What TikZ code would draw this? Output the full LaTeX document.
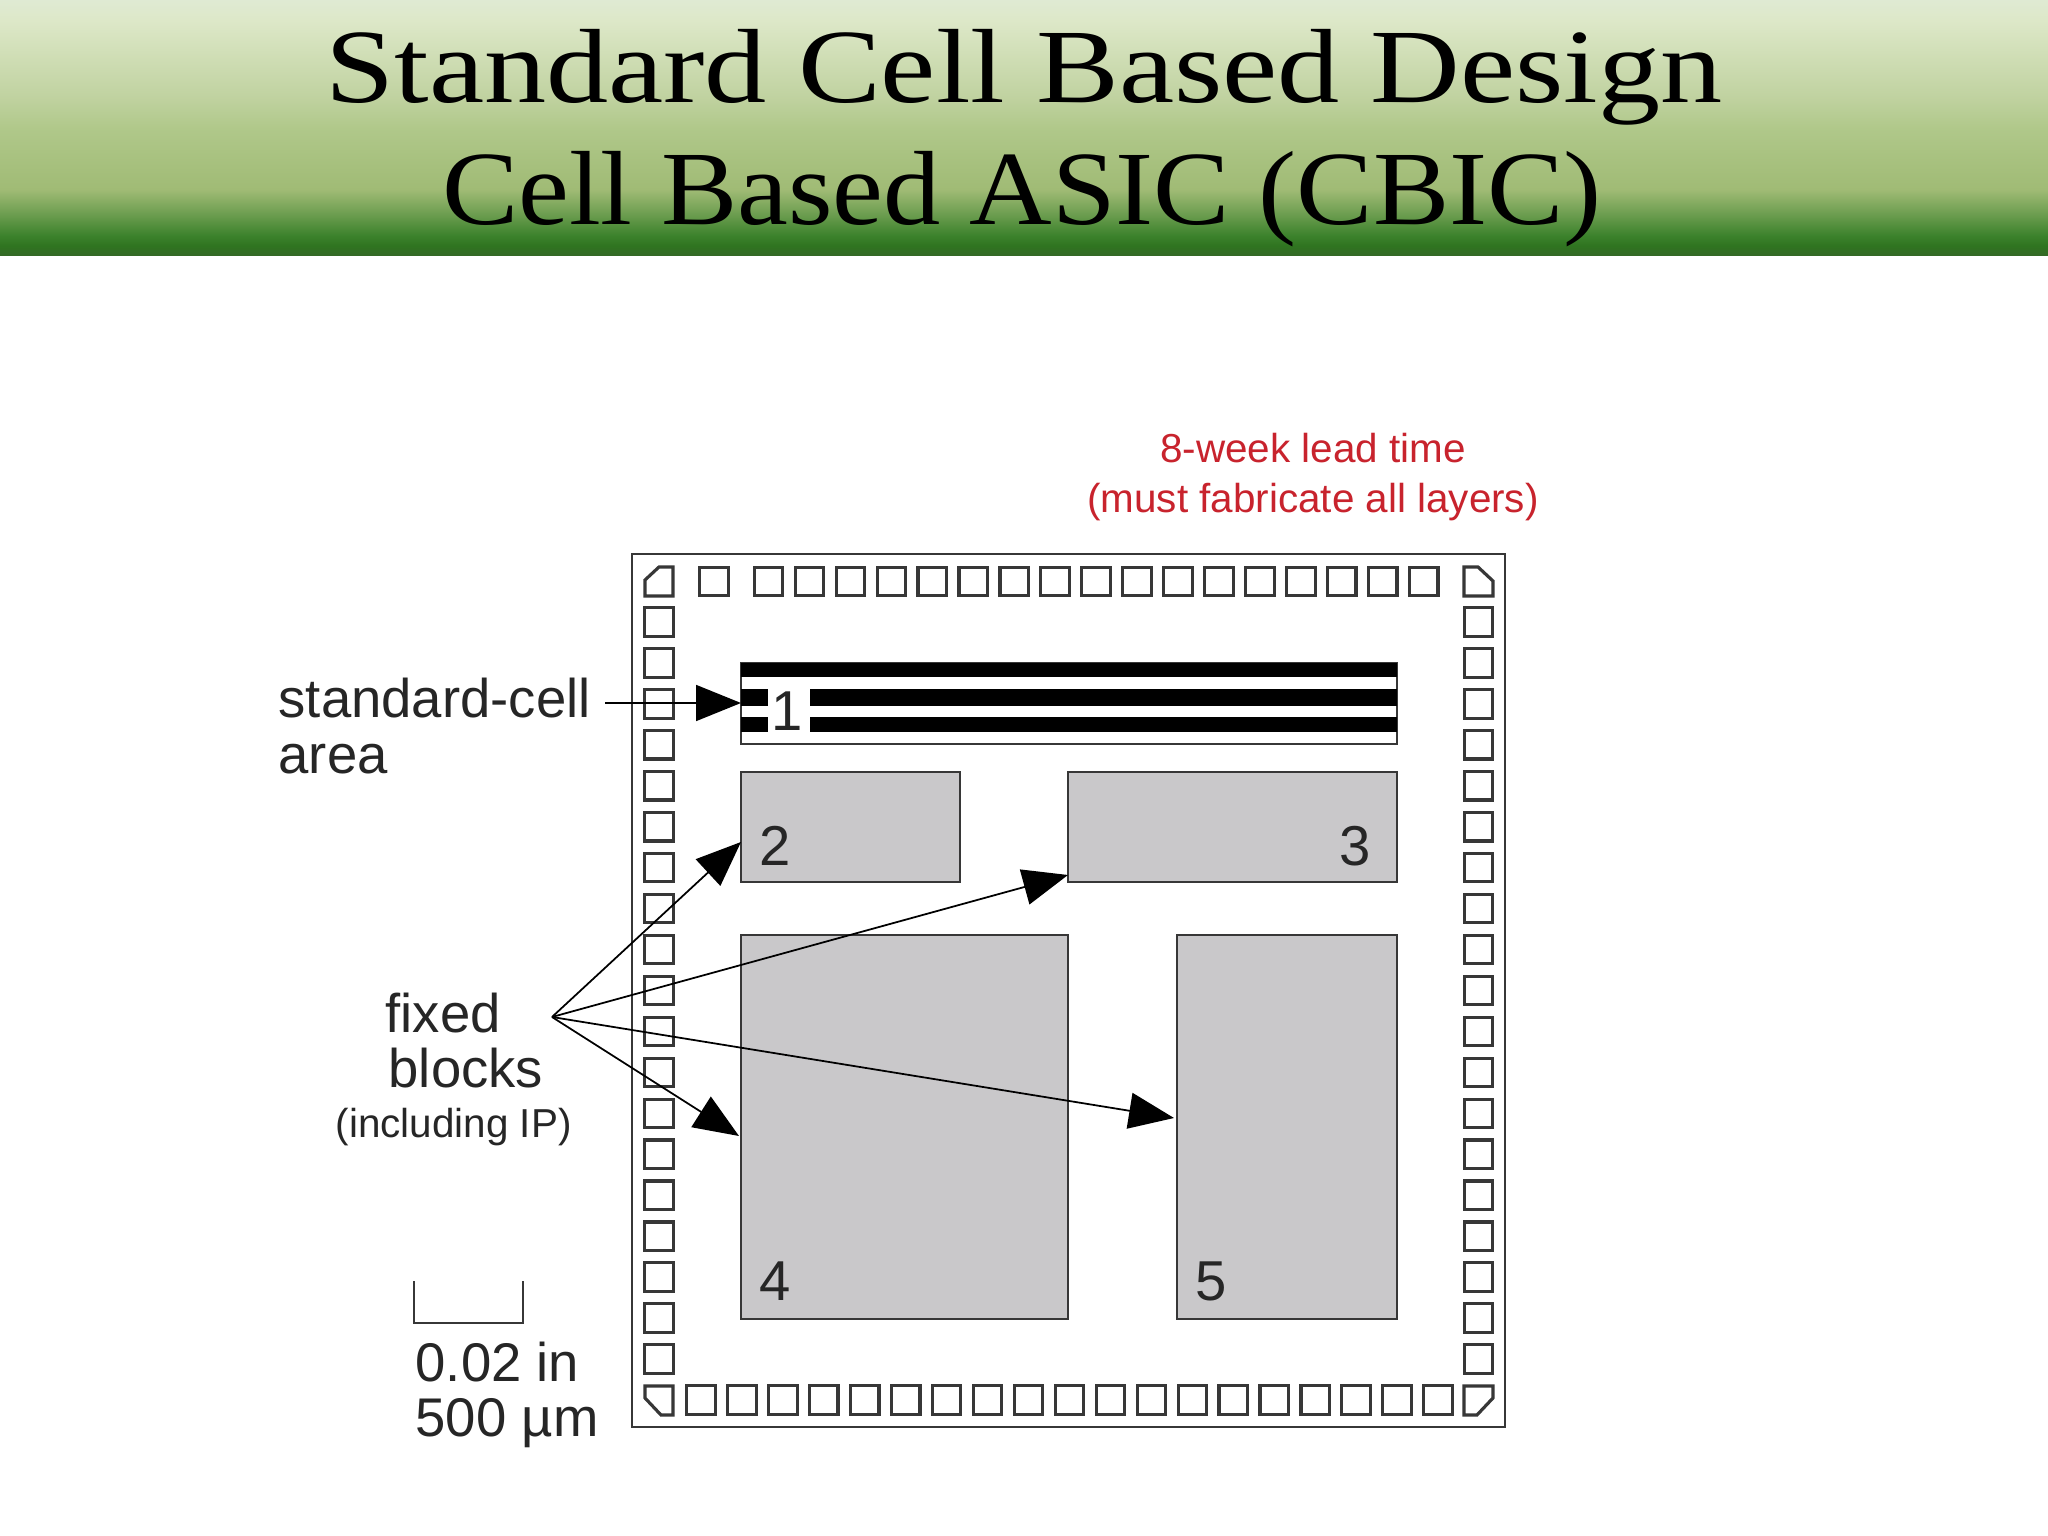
\documentclass[tikz,border=0pt]{standalone}
\usepackage{xcolor}
\usepackage{fontspec}
\usepackage{tikz}
\usetikzlibrary{arrows.meta, shapes}

\newfontfamily\labelfont{Liberation Sans}
\newfontfamily\titleonefont[FakeStretch=1.178]{Liberation Serif}
\newfontfamily\titletwofont[FakeStretch=1.085]{Liberation Serif}

\definecolor{blockgray}{RGB}{201,200,202}
\definecolor{edgegray}{RGB}{55,55,55}
\definecolor{leadred}{RGB}{200,35,45}

\definecolor{headA}{RGB}{52,104,38}
\definecolor{headB}{RGB}{47,116,32}
\definecolor{headC}{RGB}{60,130,44}
\definecolor{headD}{RGB}{106,156,78}
\definecolor{headE}{RGB}{160,187,117}
\definecolor{headF}{RGB}{176,200,138}
\definecolor{headG}{RGB}{192,210,160}
\definecolor{headH}{RGB}{221,232,200}
\definecolor{headI}{RGB}{223,234,211}

\pgfdeclareverticalshading{headershade}{100bp}{
    color(0bp)=(headA);
    color(25bp)=(headA);
    color(27bp)=(headB);
    color(29bp)=(headC);
    color(33bp)=(headD);
    color(38bp)=(headE);
    color(50bp)=(headF);
    color(56bp)=(headG);
    color(71bp)=(headH);
    color(75bp)=(headI);
    color(100bp)=(headI)}

\tikzset{
    padbox/.style={draw=edgegray, line width=0.9pt, fill=white, minimum size=2.85mm, inner sep=0pt, outer sep=0pt},
    padcorner/.style={draw=edgegray, line width=0.9pt, line join=miter},
    blockbox/.style={draw=edgegray, line width=0.8pt, fill=blockgray, inner sep=0pt, outer sep=0pt},
    cellbox/.style={draw=edgegray, line width=0.8pt, fill=white, inner sep=0pt, outer sep=0pt},
    bigarrow/.style={line width=0.5pt, -{Triangle[length=4.5mm, width=3.6mm]}},
    titleline/.style={text=black, inner sep=0pt, anchor=base},
    numlabel/.style={font=\labelfont\fontsize{16}{18}\selectfont, text=black!85, inner sep=0pt},
    sidelabel/.style={font=\labelfont\fontsize{15.5}{18}\selectfont, text=black!85, anchor=base west, inner sep=0pt},
    smalllabel/.style={font=\labelfont\fontsize{11.5}{14}\selectfont, inner sep=0pt}
}

\begin{document}
\begin{tikzpicture}[y=-1cm]

    \useasboundingbox (0,0) rectangle (20.48,15.36);
    \fill[white] (0,0) rectangle (20.48,15.36);
    \shade[shading=headershade] (0,0) rectangle (20.48,2.56);

    \node[titleline, font=\titleonefont\fontsize{30}{34.5}\selectfont] (titleone) at (10.24,1.03) {Standard Cell Based Design};
    \node[titleline, font=\titletwofont\fontsize{30}{34.5}\selectfont] (titletwo) at (10.22,2.245) {Cell Based ASIC (CBIC)};

    \node[smalllabel, text=leadred, anchor=base] (leadone) at (13.13,4.63) {8-week lead time};
    \node[smalllabel, text=leadred, anchor=base] (leadtwo) at (13.13,5.12) {(must fabricate all layers)};

    \node[draw=edgegray, line width=0.7pt, inner sep=0pt, outer sep=0pt, minimum width=8.73cm, minimum height=8.73cm] (chip) at (10.685,9.905) {};

    \foreach \y in {1,...,19}
    {
        \node[padbox] (padleft\y) at (6.59,5.81+0.4095*\y) {};
        \node[padbox] (padright\y) at (14.785,5.81+0.4095*\y) {};
    }
    \foreach \x in {1,...,19}
        \node[padbox] (padbottom\x) at (6.60+0.4095*\x,14.0) {};
    \foreach \x in {0,...,16}
        \node[padbox] (padtop\x) at (7.685+0.4095*\x,5.815) {};
    \node[padbox] (padtopfirst) at (7.14,5.815) {};

    \draw[padcorner] (6.45,5.80) -- (6.59,5.67) -- (6.73,5.67) -- (6.73,5.96) -- (6.45,5.96) -- cycle;
    \draw[padcorner] (14.64,5.67) -- (14.78,5.67) -- (14.93,5.81) -- (14.93,5.96) -- (14.64,5.96) -- cycle;
    \draw[padcorner] (6.45,13.86) -- (6.73,13.86) -- (6.73,14.15) -- (6.61,14.15) -- (6.45,13.98) -- cycle;
    \draw[padcorner] (14.64,13.86) -- (14.93,13.86) -- (14.93,13.98) -- (14.77,14.15) -- (14.64,14.15) -- cycle;

    \node[cellbox, minimum width=6.56cm, minimum height=0.81cm] (cellarea) at (10.69,7.035) {};
    \fill[black] (7.41,6.63) rectangle (13.97,6.77);
    \fill[black] (7.41,6.89) rectangle (7.68,7.06);
    \fill[black] (8.10,6.89) rectangle (13.97,7.06);
    \fill[black] (7.41,7.17) rectangle (7.68,7.32);
    \fill[black] (8.10,7.17) rectangle (13.97,7.32);

    \node[blockbox, minimum width=2.19cm, minimum height=1.10cm] (blocktwo) at (8.505,8.27) {};
    \node[blockbox, minimum width=3.29cm, minimum height=1.10cm] (blockthree) at (12.325,8.27) {};
    \node[blockbox, minimum width=3.27cm, minimum height=3.84cm] (blockfour) at (9.045,11.27) {};
    \node[blockbox, minimum width=2.20cm, minimum height=3.84cm] (blockfive) at (12.87,11.27) {};

    \node[numlabel] (numone) at (7.87,7.11) {1};
    \node[numlabel] (numtwo) at (7.75,8.46) {2};
    \node[numlabel] (numthree) at (13.55,8.46) {3};
    \node[numlabel] (numfour) at (7.75,12.81) {4};
    \node[numlabel] (numfive) at (12.11,12.81) {5};

    \node[sidelabel] (cellone) at (2.78,7.18) {standard-cell};
    \node[sidelabel] (celltwo) at (2.78,7.73) {area};
    \node[sidelabel] (fixedone) at (3.85,10.32) {fixed};
    \node[sidelabel] (fixedtwo) at (3.88,10.87) {blocks};
    \node[smalllabel, anchor=base west, text=black!85] (fixedthree) at (3.35,11.37) {(including IP)};
    \node[sidelabel] (scaleone) at (4.15,13.81) {0.02 in};
    \node[sidelabel] (scaletwo) at (4.15,14.36) {500 µm};

    \coordinate (barleft) at (4.14,12.81);
    \coordinate (barright) at (5.23,12.81);
    \draw[edgegray, line width=0.7pt] (barleft) -- (4.14,13.23) -- (5.23,13.23) -- (barright);

    \coordinate (cellfrom) at (6.05,7.03);
    \coordinate (fork) at (5.52,10.17);
    \coordinate (tiptwo) at (7.41,8.42);
    \coordinate (tipthree) at (10.68,8.75);
    \coordinate (tipfour) at (7.39,11.36);
    \coordinate (tipfive) at (11.74,11.18);

    \draw[bigarrow] (cellfrom) -- (7.41,7.03);
    \draw[bigarrow] (fork) -- (tiptwo);
    \draw[bigarrow] (fork) -- (tipthree);
    \draw[bigarrow] (fork) -- (tipfour);
    \draw[bigarrow] (fork) -- (tipfive);
\end{tikzpicture}
\end{document}
